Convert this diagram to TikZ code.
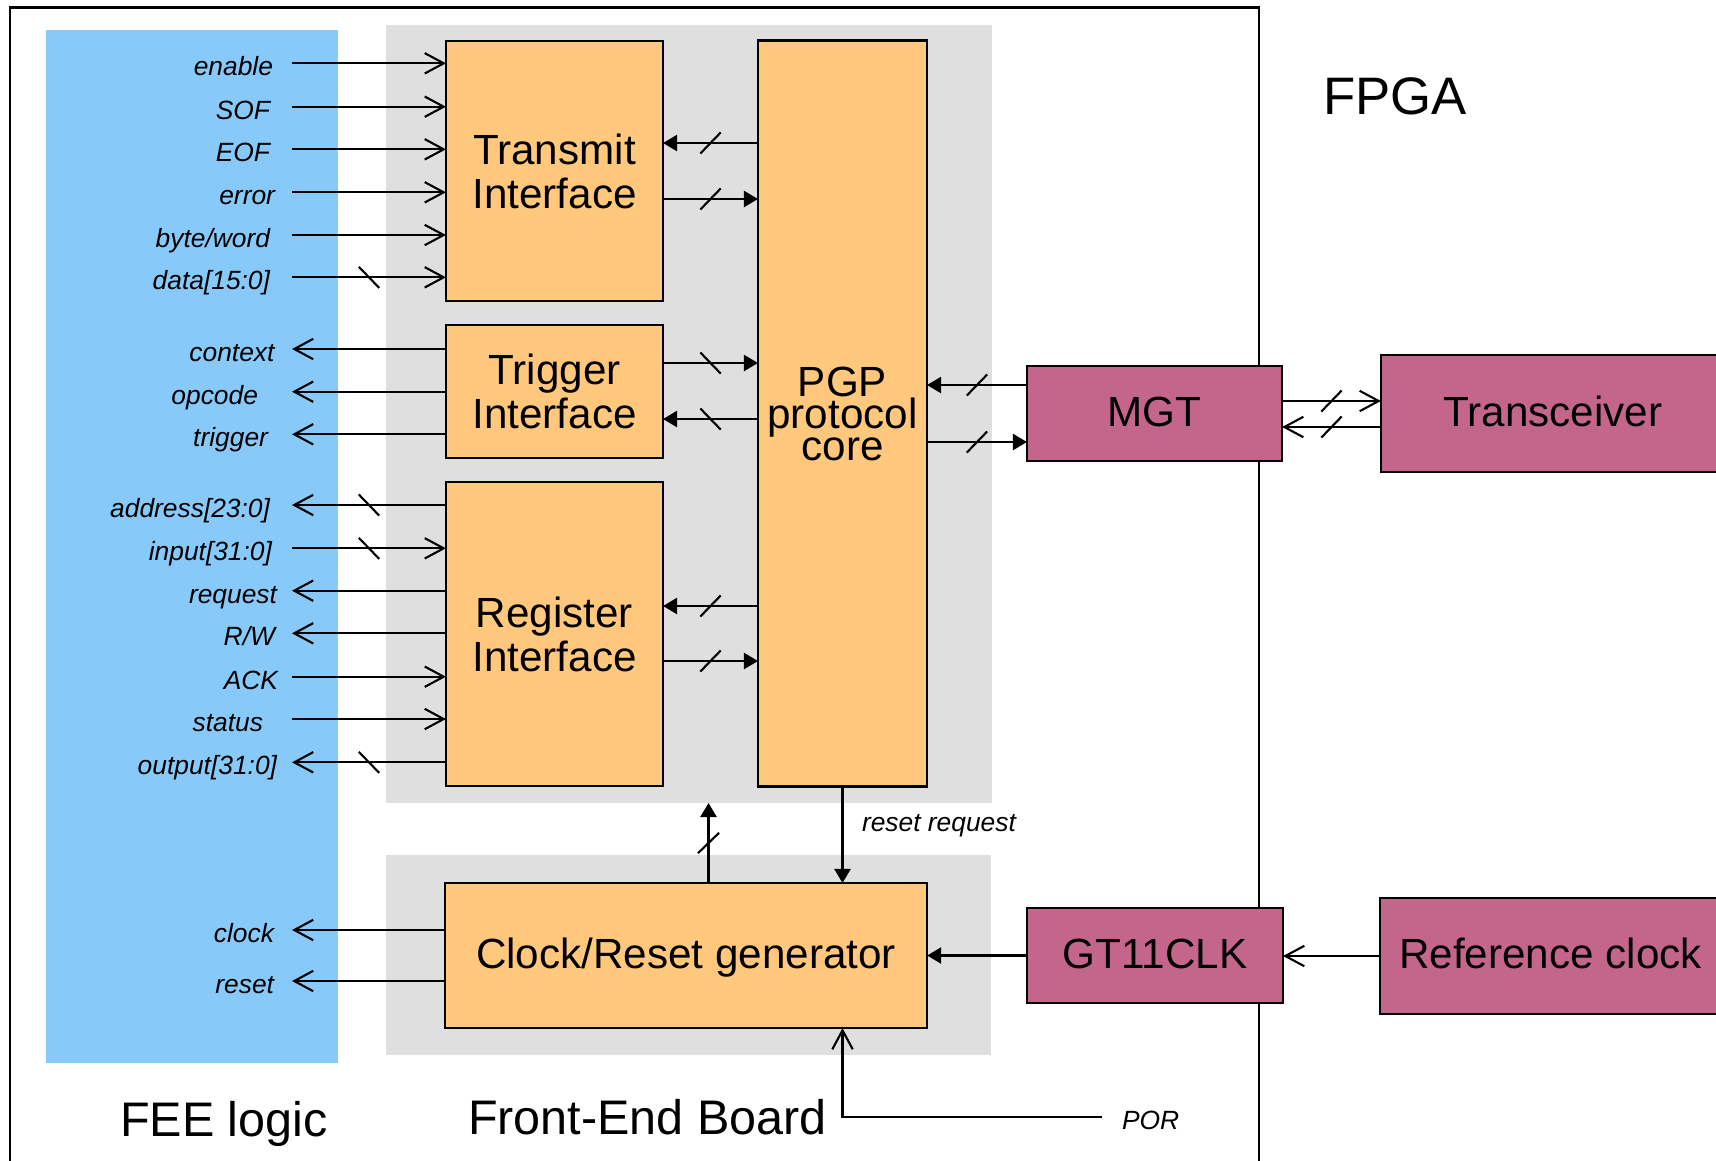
\documentclass[tikz,border=0pt]{standalone}
\usepackage{fontspec}
\setmainfont{Liberation Sans}
\usetikzlibrary{arrows.meta,decorations.markings}

\definecolor{feeblue}{RGB}{135,202,250}
\definecolor{areagray}{RGB}{223,223,223}
\definecolor{blockorange}{RGB}{255,200,125}
\definecolor{blockmag}{RGB}{196,102,140}

\newcommand\blkfont{\fontsize{12}{12.5}\selectfont}
\newcommand\pgpfont{\fontsize{12}{9.1}\selectfont\lineskiplimit=-20pt\relax}
\newcommand\sigfont{\fontsize{7.5}{9}\selectfont\itshape}

\tikzset{
  every node/.style={inner sep=0pt, outer sep=0pt},
  wire/.style={line width=0.6pt},
  openin/.style={wire, -{Straight Barb[length=5.4pt,width=5.8pt]}},
  fillin/.style={wire, -{Triangle[length=4pt,width=4.6pt]}},
  busfwd/.style={postaction={decorate, decoration={markings,
      mark=at position 0.5 with {\draw[-, line width=0.6pt] (-2.9pt,-3pt) -- (2.9pt,3pt);}}}},
  busback/.style={postaction={decorate, decoration={markings,
      mark=at position 0.5 with {\draw[-, line width=0.6pt] (-2.9pt,3pt) -- (2.9pt,-3pt);}}}},
  block/.style={draw, line width=0.75pt, fill=blockorange, font=\blkfont, align=center},
  extblock/.style={draw, line width=0.75pt, fill=blockmag, font=\blkfont,
      text height=0.72em, text depth=0pt},
  onerow/.style={text height=0.72em, text depth=0pt},
  sig/.style={font=\sigfont, text height=0.72em, text depth=0pt},
  title/.style={font=\fontsize{13.8}{16}\selectfont},
}

\begin{document}
\begin{tikzpicture}[x=0.01cm, y=-0.01cm]
\useasboundingbox (0,0) rectangle (1716,1160);
\clip (0,0) rectangle (1716,1160);

% background areas
\fill[feeblue] (46,30) rectangle (338,1063);
\fill[areagray] (386,25) rectangle (992,803);
\fill[areagray] (386,855) rectangle (991,1055);

% board outline
\draw[line width=0.65pt] (10,1175) -- (10,7.5) -- (1259,7.5) -- (1259,1175);

% headings
\node[font=\fontsize{15}{18}\selectfont, anchor=base west] (fpga) at (1323,114) {FPGA};
\node[title, anchor=base west] (feelogic) at (120,1136) {FEE logic};
\node[title, anchor=base west] (feb) at (468,1134) {Front-End Board};

% interface blocks
\node[block, minimum width=2.17cm, minimum height=2.60cm] (tx) at (554.5,171) {Transmit\\Interface};
\node[block, minimum width=2.17cm, minimum height=1.33cm] (tr) at (554.5,391.5) {Trigger\\Interface};
\node[block, minimum width=2.17cm, minimum height=3.04cm] (rg) at (554.5,634) {Register\\Interface};
\node[block, minimum width=1.69cm, minimum height=7.45cm, font=\pgpfont] (pgp) at (842.5,413.5) {PGP\\protocol\\core};
\node[block, onerow, minimum width=4.82cm, minimum height=1.45cm] (crg) at (686,955.5) {Clock/Reset generator};

% FPGA-side blocks
\node[extblock, minimum width=2.55cm, minimum height=0.95cm] (mgt) at (1154.5,413.5) {MGT};
\node[extblock, minimum width=3.44cm, minimum height=1.17cm] (trx) at (1553,413.5) {Transceiver};
\node[extblock, minimum width=2.56cm, minimum height=0.95cm] (gt) at (1155,955.5) {GT11CLK};
\node[extblock, minimum width=3.41cm, minimum height=1.16cm] (ref) at (1550.5,956) {Reference clock};

% signal names of the FEE logic
\coordinate (lx) at (292,0);
\node[sig, anchor=east] (enable) at (273,63.3) {enable};
\node[sig, anchor=east] (sof) at (270,106.7) {SOF};
\node[sig, anchor=east] (eof) at (270,149.3) {EOF};
\node[sig, anchor=east] (error) at (275,192.3) {error};
\node[sig, anchor=east] (bw) at (270,235) {byte/word};
\node[sig, anchor=east] (data) at (270,277.3) {data[15:0]};
\node[sig, anchor=east] (ctx) at (274.5,349) {context};
\node[sig, anchor=east] (opc) at (258,391.7) {opcode};
\node[sig, anchor=east] (trg) at (268,434.3) {trigger};
\node[sig, anchor=east] (addr) at (270,505) {address[23:0]};
\node[sig, anchor=east] (inp) at (272,548.3) {input[31:0]};
\node[sig, anchor=east] (req) at (277,590.7) {request};
\node[sig, anchor=east] (rw) at (275,633.3) {R/W};
\node[sig, anchor=east] (ack) at (278,676.7) {ACK};
\node[sig, anchor=east] (stat) at (263,719) {status};
\node[sig, anchor=east] (outp) at (277,762.3) {output[31:0]};
\node[sig, anchor=east] (clk) at (274,930) {clock};
\node[sig, anchor=east] (rst) at (274,981) {reset};

% transmit interface signals
\draw[openin] (enable.east -| lx) -- (enable.east -| tx.west);
\draw[openin] (sof.east -| lx) -- (sof.east -| tx.west);
\draw[openin] (eof.east -| lx) -- (eof.east -| tx.west);
\draw[openin] (error.east -| lx) -- (error.east -| tx.west);
\draw[openin] (bw.east -| lx) -- (bw.east -| tx.west);
\draw[openin, busback] (data.east -| lx) -- (data.east -| tx.west);

% trigger interface signals
\draw[openin] (ctx.east -| tr.west) -- (ctx.east -| lx);
\draw[openin] (opc.east -| tr.west) -- (opc.east -| lx);
\draw[openin] (trg.east -| tr.west) -- (trg.east -| lx);

% register interface signals
\draw[openin, busback] (addr.east -| rg.west) -- (addr.east -| lx);
\draw[openin, busback] (inp.east -| lx) -- (inp.east -| rg.west);
\draw[openin] (req.east -| rg.west) -- (req.east -| lx);
\draw[openin] (rw.east -| rg.west) -- (rw.east -| lx);
\draw[openin] (ack.east -| lx) -- (ack.east -| rg.west);
\draw[openin] (stat.east -| lx) -- (stat.east -| rg.west);
\draw[openin, busback] (outp.east -| rg.west) -- (outp.east -| lx);

% clock and reset outputs
\draw[openin] (clk.east -| crg.west) -- (clk.east -| lx);
\draw[openin] (rst.east -| crg.west) -- (rst.east -| lx);

% buses between the interfaces and the protocol core
\coordinate (t1) at (0,143);
\coordinate (t2) at (0,199);
\coordinate (g1) at (0,363);
\coordinate (g2) at (0,419);
\coordinate (r1) at (0,606);
\coordinate (r2) at (0,661);
\coordinate (m1) at (0,385);
\coordinate (m2) at (0,442);
\coordinate (x1) at (0,401);
\coordinate (x2) at (0,427);

\draw[fillin, busfwd] (pgp.west |- t1) -- (tx.east |- t1);
\draw[fillin, busfwd] (tx.east |- t2) -- (pgp.west |- t2);
\draw[fillin, busback] (tr.east |- g1) -- (pgp.west |- g1);
\draw[fillin, busback] (pgp.west |- g2) -- (tr.east |- g2);
\draw[fillin, busfwd] (pgp.west |- r1) -- (rg.east |- r1);
\draw[fillin, busfwd] (rg.east |- r2) -- (pgp.west |- r2);

% protocol core <-> MGT <-> transceiver
\draw[fillin, busfwd] (mgt.west |- m1) -- (pgp.east |- m1);
\draw[fillin, busfwd] (pgp.east |- m2) -- (mgt.west |- m2);
\draw[openin, busfwd] (mgt.east |- x1) -- (trx.west |- x1);
\draw[openin, busfwd] (trx.west |- x2) -- (mgt.east |- x2);

% clocking
\draw[fillin] (gt.west) -- (crg.east |- gt.west);
\draw[openin] (ref.west) -- (gt.east |- ref.west);

% reset request and clock/reset distribution
\draw[fillin] (pgp.south) -- (crg.north -| pgp.south);
\node[sig, anchor=base west] (rreq) at (862,831) {reset request};
\coordinate (upend) at (708.5,803);
\draw[fillin, busback] (crg.north -| upend) -- (upend);

% power-on reset
\coordinate (por) at (1102,1117);
\draw[openin] (por) -| (crg.south -| pgp.south);
\node[sig, anchor=west] (porlbl) at (1122,1117) {POR};
\end{tikzpicture}
\end{document}
